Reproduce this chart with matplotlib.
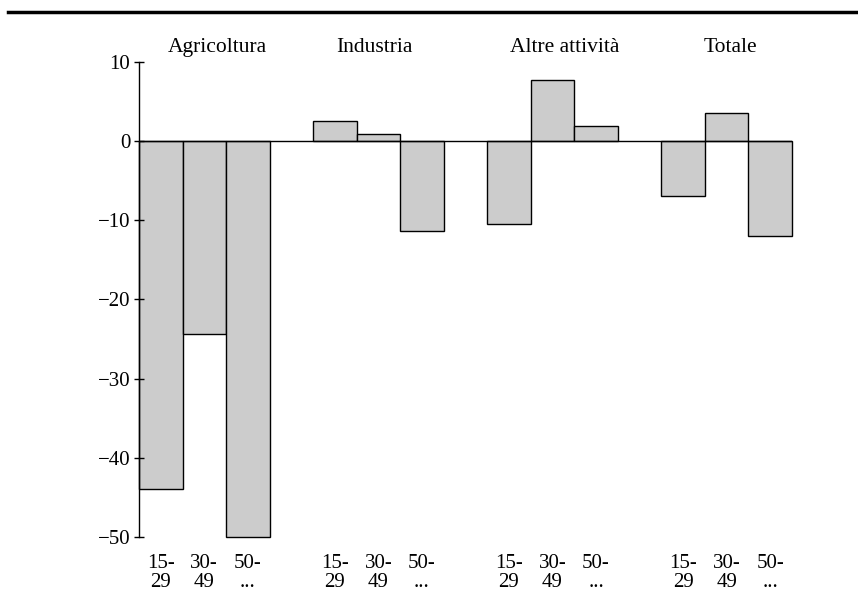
import numpy as np
import matplotlib
matplotlib.use("Agg")
from matplotlib import pyplot as plt
from matplotlib.lines import Line2D

## dati
settori = ["Agricoltura", "Industria", "Altre attività", "Totale"]
classi_eta = ["15-\n29", "30-\n49", "50-\n..."]
agricoltura = [-43.9, -24.4, -50.0]
industria = [2.6, 0.9, -11.4]
altre_attivita = [-10.5, 7.7, 1.9]
totale = [-6.9, 3.5, -12.0]
valori = [agricoltura, industria, altre_attivita, totale]

plt.rcParams['font.family'] = ['Liberation Serif', 'DejaVu Serif']
plt.rcParams['axes.unicode_minus'] = True

fig = plt.figure(figsize=(8.58, 5.99), dpi=100)
ax = fig.add_axes([0.162, 0.1035, 0.761, 0.793])

# barre: 3 per gruppo, poi uno spazio
posizioni = []
etichette = []
for g in range(len(settori)):
    x = [g*4 + i for i in range(3)]
    barre = ax.bar(x, valori[g], width=1.0, color='#cccccc', edgecolor='black', linewidth=1)
    for b in barre:
        b.set_clip_on(False)
    posizioni += x
    etichette += classi_eta
    # titolo del gruppo sopra
    ax.text(g*4 + 1 + [0.29, -0.1, 0.29, 0.09][g], 11.8, settori[g], ha='center', va='center', fontsize=15.5)

ax.axhline(0, color='black', linewidth=1)
ax.set_xlim(-0.5, 14.5)
ax.set_ylim(-50, 10)
ax.set_yticks([10, 0, -10, -20, -30, -40, -50])
ax.tick_params(axis='y', direction='inout', length=6.5, width=1, labelsize=15, pad=3)
ax.set_xticks(posizioni)
ax.set_xticklabels(etichette, fontsize=15, linespacing=1.0)
ax.tick_params(axis='x', length=0, pad=12)
for lato in ['top', 'right', 'bottom']:
    ax.spines[lato].set_visible(False)
ax.spines['left'].set_linewidth(1)

# riga orizzontale in alto
fig.add_artist(Line2D([0.009, 1.0], [0.98, 0.98], color='black', linewidth=2.5, transform=fig.transFigure))

plt.savefig("out.png", dpi=100)
